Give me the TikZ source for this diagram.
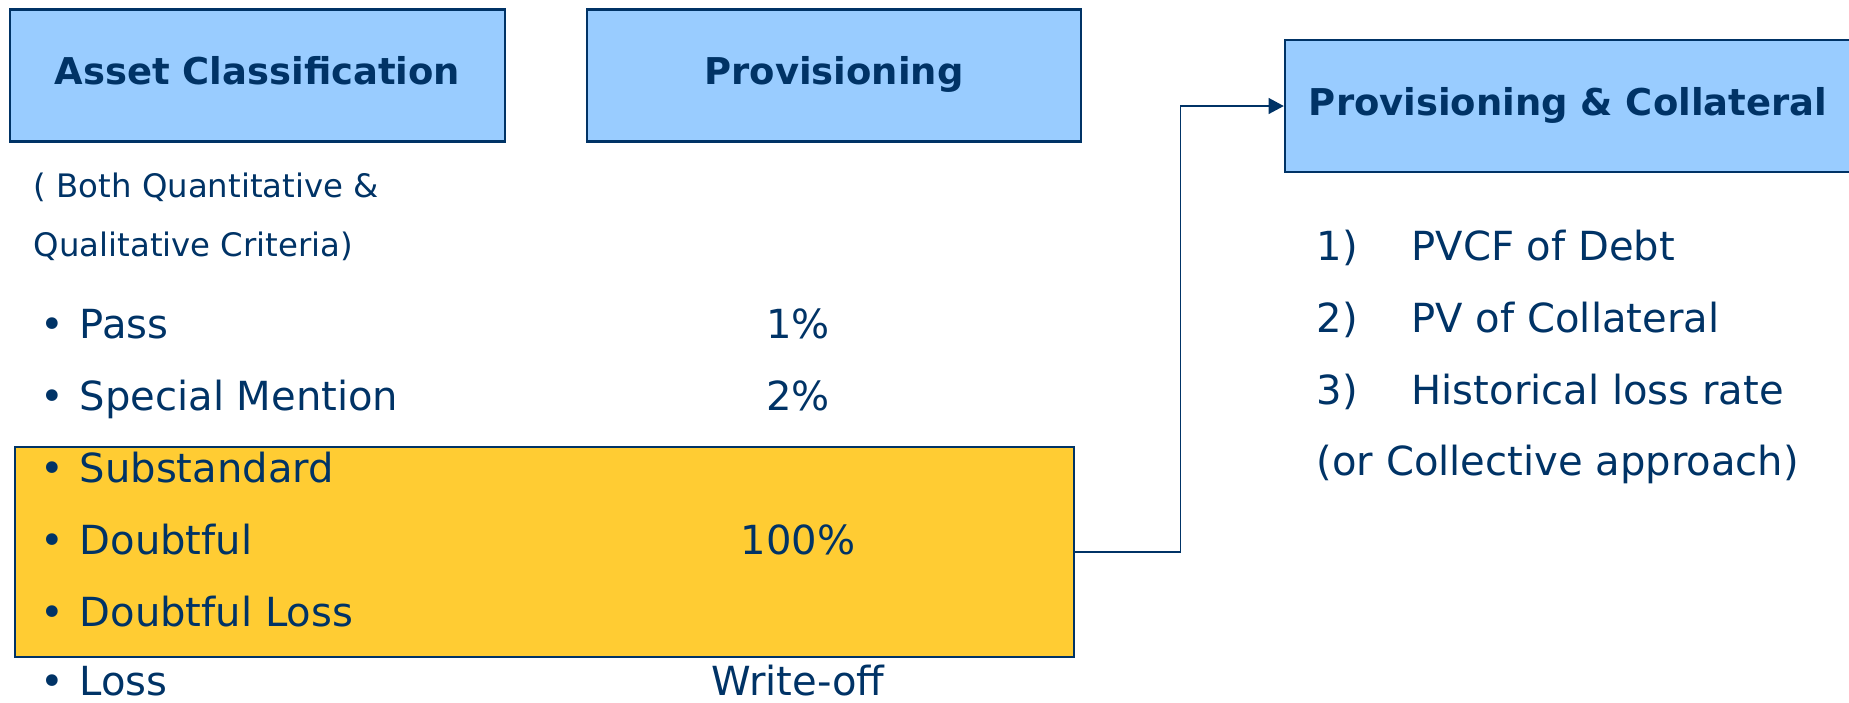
\documentclass[tikz,border=0pt]{standalone}
\usepackage{fontspec}
\setmainfont{DejaVu Sans}
\usetikzlibrary{arrows.meta, positioning}

\definecolor{navy}{RGB}{0,51,102}
\definecolor{lblue}{RGB}{153,204,255}
\definecolor{gold}{RGB}{255,204,51}

\begin{document}
\begin{tikzpicture}[
    x=0.01cm, y=-0.01cm,
    hbox/.style={draw=navy, line width=0.6pt, fill=lblue, text=navy, inner sep=0pt, font=\fontsize{10.5}{12}\selectfont\bfseries, text height=0.73em, text depth=2pt},
    item/.style={anchor=base west, text=navy, inner sep=0pt, font=\fontsize{11.4}{13}\selectfont},
    pct/.style={item, anchor=base},
    note/.style={item, font=\fontsize{9.2}{10}\selectfont},
    link/.style={-{Triangle[length=4.3pt, width=4.5pt]}, draw=navy, line width=0.45pt}
]
\useasboundingbox (0,0) rectangle (1849,702);

\node[draw=navy, line width=0.6pt, fill=gold, minimum width=10.59cm, minimum height=2.10cm, inner sep=0pt] (stage) at (544.5,552) {};

\node[hbox, minimum width=4.94cm, minimum height=1.32cm] (asset) at (257.5,75.5) {Asset Classification};
\node[hbox, minimum width=4.94cm, minimum height=1.32cm] (prov) at (834,75.5) {Provisioning};
\node[hbox, minimum width=5.66cm, minimum height=1.32cm] (provcoll) at (1568,106) {Provisioning \& Collateral};

\node[note] (crit1) at (33,197) {( Both Quantitative \&};
\node[note] (crit2) at (33,256) {Qualitative Criteria)};

\node[item] (pass) at (79,338) {\llap{•\hspace{4.5pt}}Pass};
\node[item] (special) at (79,410) {\llap{•\hspace{4.5pt}}Special Mention};
\node[item] (substd) at (79,482) {\llap{•\hspace{4.5pt}}Substandard};
\node[item] (doubt) at (79,554) {\llap{•\hspace{4.5pt}}Doubtful};
\node[item] (dloss) at (79,626) {\llap{•\hspace{4.5pt}}Doubtful Loss};
\node[item] (loss) at (79,695) {\llap{•\hspace{4.5pt}}Loss};

\node[pct] (pct1) at (798,338) {1\%};
\node[pct] (pct2) at (798,410) {2\%};
\node[pct] (pct3) at (798,554) {100\%};
\node[pct] (pct4) at (798,695) {Write-off};

\node[item] (m1) at (1316,260) {\makebox[27pt][l]{1)}PVCF of Debt};
\node[item] (m2) at (1316,332) {\makebox[27pt][l]{2)}PV of Collateral};
\node[item] (m3) at (1316,404) {\makebox[27pt][l]{3)}Historical loss rate};
\node[item] (m4) at (1316,475) {(or Collective approach)};

\draw[link] (stage.east) -- ++(105,0) |- (provcoll.west);

\end{tikzpicture}
\end{document}
